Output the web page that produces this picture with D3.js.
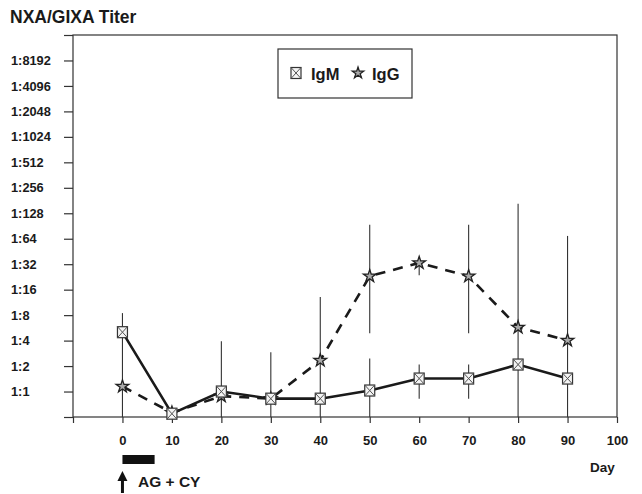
<!DOCTYPE html>
<html>
<head>
<meta charset="utf-8">
<script src="https://cdn.jsdelivr.net/npm/d3@7"></script>
<style>
  html, body { margin: 0; padding: 0; background: #ffffff; }
  svg { display: block; }
  text { font-family: "Liberation Sans", Arial, Helvetica, sans-serif; font-weight: bold; fill: #1a1a1a; }
</style>
</head>
<body>
<svg id="chart" width="642" height="494"></svg>
<script>
// ---- data (titers as log2 of the dilution: 0 = 1:1, 13 = 1:8192) ----
const days = [0, 10, 20, 30, 40, 50, 60, 70, 80, 90];
const igm = [2.33, -0.87, 0.0, -0.28, -0.28, 0.04, 0.51, 0.51, 1.06, 0.51];
const igg = [0.2, -0.83, -0.18, -0.28, 1.22, 4.53, 5.05, 4.53, 2.52, 2.01];
// error bar ranges [low, high] (null = no bar)
const igmErrLow  = [-1, null, -1, -1, null, -1, -0.28, -0.28, null, null];
const igmErrHigh = [3.08, null, 1.97, 1.54, null, 1.30, 1.06, 1.06, null, null];
const iggErrLow  = [null, null, null, null, -1, 2.29, 4.57, 2.29, -1, -1];
const iggErrHigh = [null, null, null, null, 3.71, 6.55, 5.24, 6.55, 7.37, 6.11];
const yTickValues = [-1,0,1,2,3,4,5,6,7,8,9,10,11,12,13,14];
const yLabelExps = [0,1,2,3,4,5,6,7,8,9,10,11,12,13];
const xTickValues = [-10,0,10,20,30,40,50,60,70,80,90,100];
const xLabels = ["0","10","20","30","40","50","60","70","80","90","100"];
const treatment = [0, 6.5];
const seriesNames = ["IgM", "IgG"];

const svg = d3.select("#chart");
const x = d3.scaleLinear().domain([-10, 100]).range([73, 617]);
const y = d3.scaleLinear().domain([-1, 14]).range([417, 35]);

// frame
svg.append("rect")
  .attr("x", x(-10)).attr("y", y(14))
  .attr("width", x(100) - x(-10)).attr("height", y(-1) - y(14))
  .attr("fill", "none").attr("stroke", "#333").attr("stroke-width", 1.2);

// y axis
const yAxis = d3.axisLeft(y).tickValues(yTickValues).tickSize(9)
  .tickFormat(d => yLabelExps.includes(d) ? "1:" + Math.pow(2, d) : "");
const gy = svg.append("g").attr("transform", `translate(${x(-10)},0)`).call(yAxis);
gy.select(".domain").remove();
gy.selectAll(".tick line").attr("stroke", "#333").attr("stroke-width", 1.2);
gy.selectAll(".tick text")
  .attr("text-anchor", "start").attr("x", 11 - x(-10))
  .attr("font-size", "12.8px").attr("font-family", null).attr("fill", "#1a1a1a");

// x axis
const xAxis = d3.axisBottom(x).tickValues(xTickValues).tickSize(6)
  .tickFormat(d => d >= 0 ? xLabels[xTickValues.indexOf(d) - 1] : "");
const gx = svg.append("g").attr("transform", `translate(0,${y(-1)})`).call(xAxis);
gx.select(".domain").remove();
gx.selectAll(".tick line").attr("stroke", "#333").attr("stroke-width", 1.2);
gx.selectAll(".tick text")
  .attr("y", 19).attr("font-size", "13px").attr("font-family", null).attr("fill", "#1a1a1a");

// title & axis label
svg.append("text").attr("x", 10).attr("y", 23).attr("font-size", "17.5px").text("NXA/GIXA Titer");
svg.append("text").attr("x", 590).attr("y", 472).attr("font-size", "13.5px").text("Day");

// error bars
function errBars(lo, hi) {
  const data = days.map((d, i) => ({d, lo: lo[i], hi: hi[i]})).filter(e => e.lo !== null);
  svg.append("g").selectAll("line").data(data).join("line")
    .attr("x1", e => x(e.d)).attr("x2", e => x(e.d))
    .attr("y1", e => y(e.lo)).attr("y2", e => y(e.hi))
    .attr("stroke", "#333").attr("stroke-width", 1.1);
}
errBars(igmErrLow, igmErrHigh);
errBars(iggErrLow, iggErrHigh);

// lines
const line = d3.line().x((v, i) => x(days[i])).y(v => y(v));
svg.append("path").datum(igg).attr("d", line)
  .attr("fill", "none").attr("stroke", "#1a1a1a").attr("stroke-width", 2.6)
  .attr("stroke-dasharray", "10,8");
svg.append("path").datum(igm).attr("d", line)
  .attr("fill", "none").attr("stroke", "#1a1a1a").attr("stroke-width", 2.6);

// markers
function squareX(g) {
  g.append("rect").attr("x", -5).attr("y", -5.5).attr("width", 10).attr("height", 11)
    .attr("fill", "#f4f4f4").attr("stroke", "#333").attr("stroke-width", 1.2);
  g.append("path").attr("d", "M-5,-5.5L5,5.5M5,-5.5L-5,5.5")
    .attr("stroke", "#555").attr("stroke-width", 1);
}
function star(g, size) {
  g.append("path").attr("d", d3.symbol().type(d3.symbolStar).size(size)())
    .attr("fill", "#aaa").attr("stroke", "#222").attr("stroke-width", 1.3);
}
svg.append("g").selectAll("g").data(igg).join("g")
  .attr("transform", (v, i) => `translate(${x(days[i])},${y(v)})`)
  .each(function() { star(d3.select(this), 50); });
svg.append("g").selectAll("g").data(igm).join("g")
  .attr("transform", (v, i) => `translate(${x(days[i])},${y(v)})`)
  .each(function() { squareX(d3.select(this)); });

// legend
svg.append("rect").attr("x", 278).attr("y", 49).attr("width", 134).attr("height", 49)
  .attr("fill", "#fff").attr("stroke", "#333").attr("stroke-width", 1.2);
const lg1 = svg.append("g").attr("transform", "translate(296,73)");
squareX(lg1);
svg.append("text").attr("x", 311).attr("y", 80).attr("font-size", "16.5px").text(seriesNames[0]);
const lg2 = svg.append("g").attr("transform", "translate(358,73)");
star(lg2, 40);
svg.append("text").attr("x", 372).attr("y", 80).attr("font-size", "16.5px").text(seriesNames[1]);

// treatment bar and arrow
svg.append("rect").attr("x", x(treatment[0])).attr("y", 455)
  .attr("width", x(treatment[1]) - x(treatment[0])).attr("height", 9).attr("fill", "#111");
svg.append("line").attr("x1", x(0)).attr("x2", x(0)).attr("y1", 479).attr("y2", 493)
  .attr("stroke", "#111").attr("stroke-width", 3);
svg.append("path")
  .attr("d", `M${x(0)},471L${x(0) + 5},481L${x(0) - 5},481Z`).attr("fill", "#111");
svg.append("text").attr("x", 138).attr("y", 487).attr("font-size", "15.5px").text("AG + CY");
</script>
</body>
</html>
